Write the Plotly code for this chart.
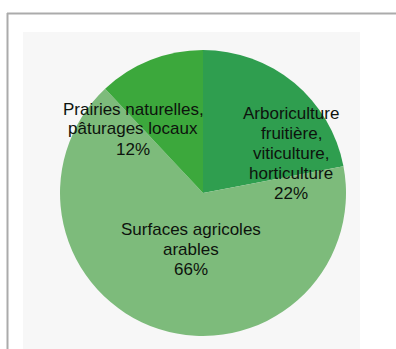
import plotly.graph_objects as go

# Répartition des surfaces agricoles
labels = ["Arboriculture fruitière, viticulture, horticulture",
          "Surfaces agricoles arables",
          "Prairies naturelles, pâturages locaux"]
values = [22, 66, 12]
label_lines = [["Arboriculture", "fruitière,", "viticulture,", "horticulture"],
               ["Surfaces agricoles", "arables"],
               ["Prairies naturelles,", "pâturages locaux"]]
colors = ["#2f9e4f", "#7dbb7b", "#3ca83c"]

W, H = 396, 349

def px(x):
    return x / W

def py(y):
    return 1 - y / H

# label anchor (centre x, first line y) in pixels
label_pos = [(291, 113), (191, 229), (133, 109)]
line_step = 20

fig = go.Figure()
fig.add_trace(go.Pie(
    labels=labels,
    values=values,
    sort=False,
    direction="clockwise",
    rotation=0,
    marker=dict(colors=colors, line=dict(width=0)),
    textinfo="none",
    hoverinfo="label+percent",
    showlegend=False,
    domain=dict(x=[px(60), px(346)], y=[py(336), py(50)]),
))

annotations = []
total = sum(values)
for lines, v, (cx, cy) in zip(label_lines, values, label_pos):
    texts = lines + [f"{round(100 * v / total)}%"]
    for i, t in enumerate(texts):
        annotations.append(dict(
            x=px(cx), y=py(cy + i * line_step), xref="paper", yref="paper",
            text=t, showarrow=False, xanchor="center", yanchor="middle",
            font=dict(family="Liberation Sans, Arial, sans-serif", size=17, color="#0d130d"),
        ))

shapes = [
    # light panel behind the chart
    dict(type="rect", xref="paper", yref="paper", x0=px(23), x1=px(360), y0=py(349), y1=py(32),
         fillcolor="#f7f7f7", line=dict(width=0), layer="below"),
    # frame lines
    dict(type="line", xref="paper", yref="paper", x0=px(7), x1=px(396), y0=py(13.5), y1=py(13.5),
         line=dict(color="#ababab", width=2)),
    dict(type="line", xref="paper", yref="paper", x0=px(7.5), x1=px(7.5), y0=py(13), y1=py(349),
         line=dict(color="#ababab", width=2)),
]

fig.update_layout(
    width=W, height=H,
    margin=dict(l=0, r=0, t=0, b=0),
    paper_bgcolor="white",
    plot_bgcolor="white",
    shapes=shapes,
    annotations=annotations,
)

fig.write_html("out.html")
